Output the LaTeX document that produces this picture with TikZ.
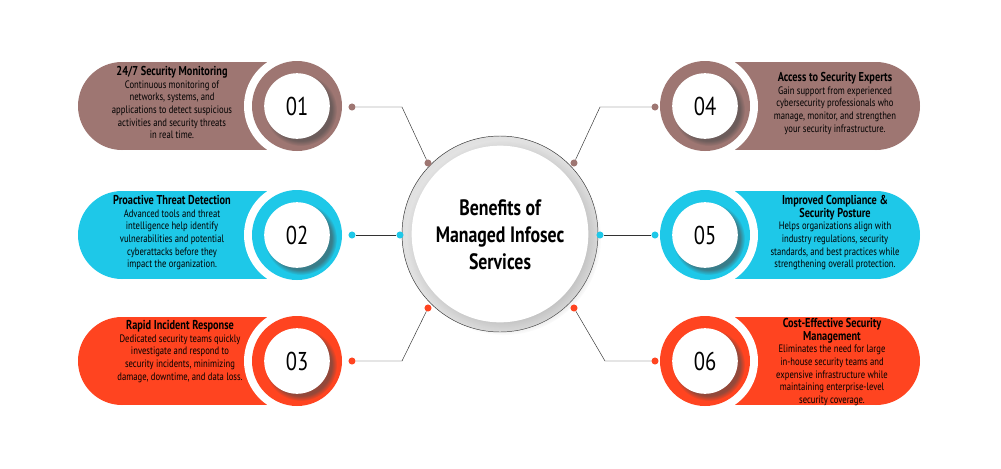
\documentclass[tikz,border=0pt]{standalone}
\usepackage{fontspec}
\setmainfont[FakeStretch=0.8]{PT Sans}
\usetikzlibrary{calc,shadows}
\definecolor{cbrown}{HTML}{9E7672}
\definecolor{ccyan}{HTML}{1EC8E8}
\definecolor{cred}{HTML}{FF4420}
\newcommand{\hd}{\bfseries\fontsize{11}{11.8}\selectfont}
\newcommand{\bd}{\mdseries\fontsize{9.2}{10.8}\selectfont}
\tikzset{
  dot/.style={circle,inner sep=0pt,minimum size=6pt},
  num/.style={circle,fill=white,minimum size=56pt,font=\fontsize{22}{22}\selectfont,
    circular drop shadow={shadow xshift=3pt,shadow yshift=-3pt,fill=black!70,opacity=0.6}},
  desc/.style={align=center,font=\bd,inner sep=0pt},
  link/.style={draw=black!80,thin}
}
% one item: #1 colour, #2 pill x0, #3 pill x1, #4 circle x, #5 y, #6 number, #7 name
\newcommand{\benefit}[7]{
  \fill[#1] (#2,#5-44) rectangle (#3,#5+44);
  \fill[#1] (#2,#5) circle (44);
  \fill[white] (#4,#5) circle (53);
  \fill[#1] (#4,#5) circle (45);
  \node[num] (#7) at (#4,#5) {#6};
}
\begin{document}
\begin{tikzpicture}[x=0.03cm,y=-0.03cm]
\useasboundingbox (0,0) rectangle (1001,468);
\fill[white] (0,0) rectangle (1001,468);

\benefit{cbrown}{122}{297}{297}{106}{01}{n1}
\benefit{ccyan}{122}{297}{297}{235}{02}{n2}
\benefit{cred}{122}{297}{297}{361}{03}{n3}
\benefit{cbrown}{876}{705}{705}{106}{04}{n4}
\benefit{ccyan}{876}{705}{705}{235}{05}{n5}
\benefit{cred}{876}{705}{705}{361}{06}{n6}

% centre
\node[circle,draw=black!80,thin,minimum size=5.88cm,inner sep=0pt,
  inner color=white,outer color=black!12] (hub) at (500,234) {};
\node[circle,fill=white,minimum size=5.3cm,inner sep=0pt,
  circular drop shadow={shadow xshift=3pt,shadow yshift=-3pt,fill=black!35,opacity=0.5}] (core) at (500,234) {};
\node[align=center,font=\bfseries\fontsize{19}{23}\selectfont] (title) at (500,235)
  {Benefits of\\Managed Infosec\\Services};

% dots and links
\node[dot,fill=cbrown] (a1) at (352,107) {};
\node[dot,fill=cbrown] (b1) at (428,163) {};
\coordinate (k1) at (402,107);
\draw[link] (a1) -- (k1) -- (b1);
\node[dot,fill=ccyan] (a2) at (352,235) {};
\node[dot,fill=ccyan] (b2) at (400,235) {};
\draw[link] (a2) -- (b2);
\node[dot,fill=cred] (a3) at (352,361) {};
\node[dot,fill=cred] (b3) at (428,308) {};
\coordinate (k3) at (402,361);
\draw[link] (a3) -- (k3) -- (b3);
\node[dot,fill=cbrown] (a4) at (655,107) {};
\node[dot,fill=cbrown] (b4) at (574,163) {};
\coordinate (k4) at (600,107);
\draw[link] (a4) -- (k4) -- (b4);
\node[dot,fill=ccyan] (a5) at (655,235) {};
\node[dot,fill=ccyan] (b5) at (600,235) {};
\draw[link] (a5) -- (b5);
\node[dot,fill=cred] (a6) at (655,361) {};
\node[dot,fill=cred] (b6) at (574,308) {};
\coordinate (k6) at (605,361);
\draw[link] (a6) -- (k6) -- (b6);

% texts
\node[desc,anchor=north] (t1) at (172,66) {\hd 24/7 Security Monitoring\\Continuous monitoring of\\networks, systems, and\\applications to detect suspicious\\activities and security threats\\in real time.};
\node[desc,anchor=north] (t2) at (172,195) {\hd Proactive Threat Detection\\Advanced tools and threat\\intelligence help identify\\vulnerabilities and potential\\cyberattacks before they\\impact the organization.};
\node[desc,anchor=north] (t3) at (180,320) {\hd Rapid Incident Response\\Dedicated security teams quickly\\investigate and respond to\\security incidents, minimizing\\damage, downtime, and data loss.};
\node[desc,anchor=north] (t4) at (835,72) {\hd Access to Security Experts\\Gain support from experienced\\cybersecurity professionals who\\manage, monitor, and strengthen\\your security infrastructure.};
\node[desc,anchor=north] (t5) at (835,195) {\hd Improved Compliance \&\\\hd Security Posture\\Helps organizations align with\\industry regulations, security\\standards, and best practices while\\strengthening overall protection.};
\node[desc,anchor=north] (t6) at (832,318) {\hd Cost-Effective Security\\\hd Management\\Eliminates the need for large\\in-house security teams and\\expensive infrastructure while\\maintaining enterprise-level\\security coverage.};
\end{tikzpicture}
\end{document}
